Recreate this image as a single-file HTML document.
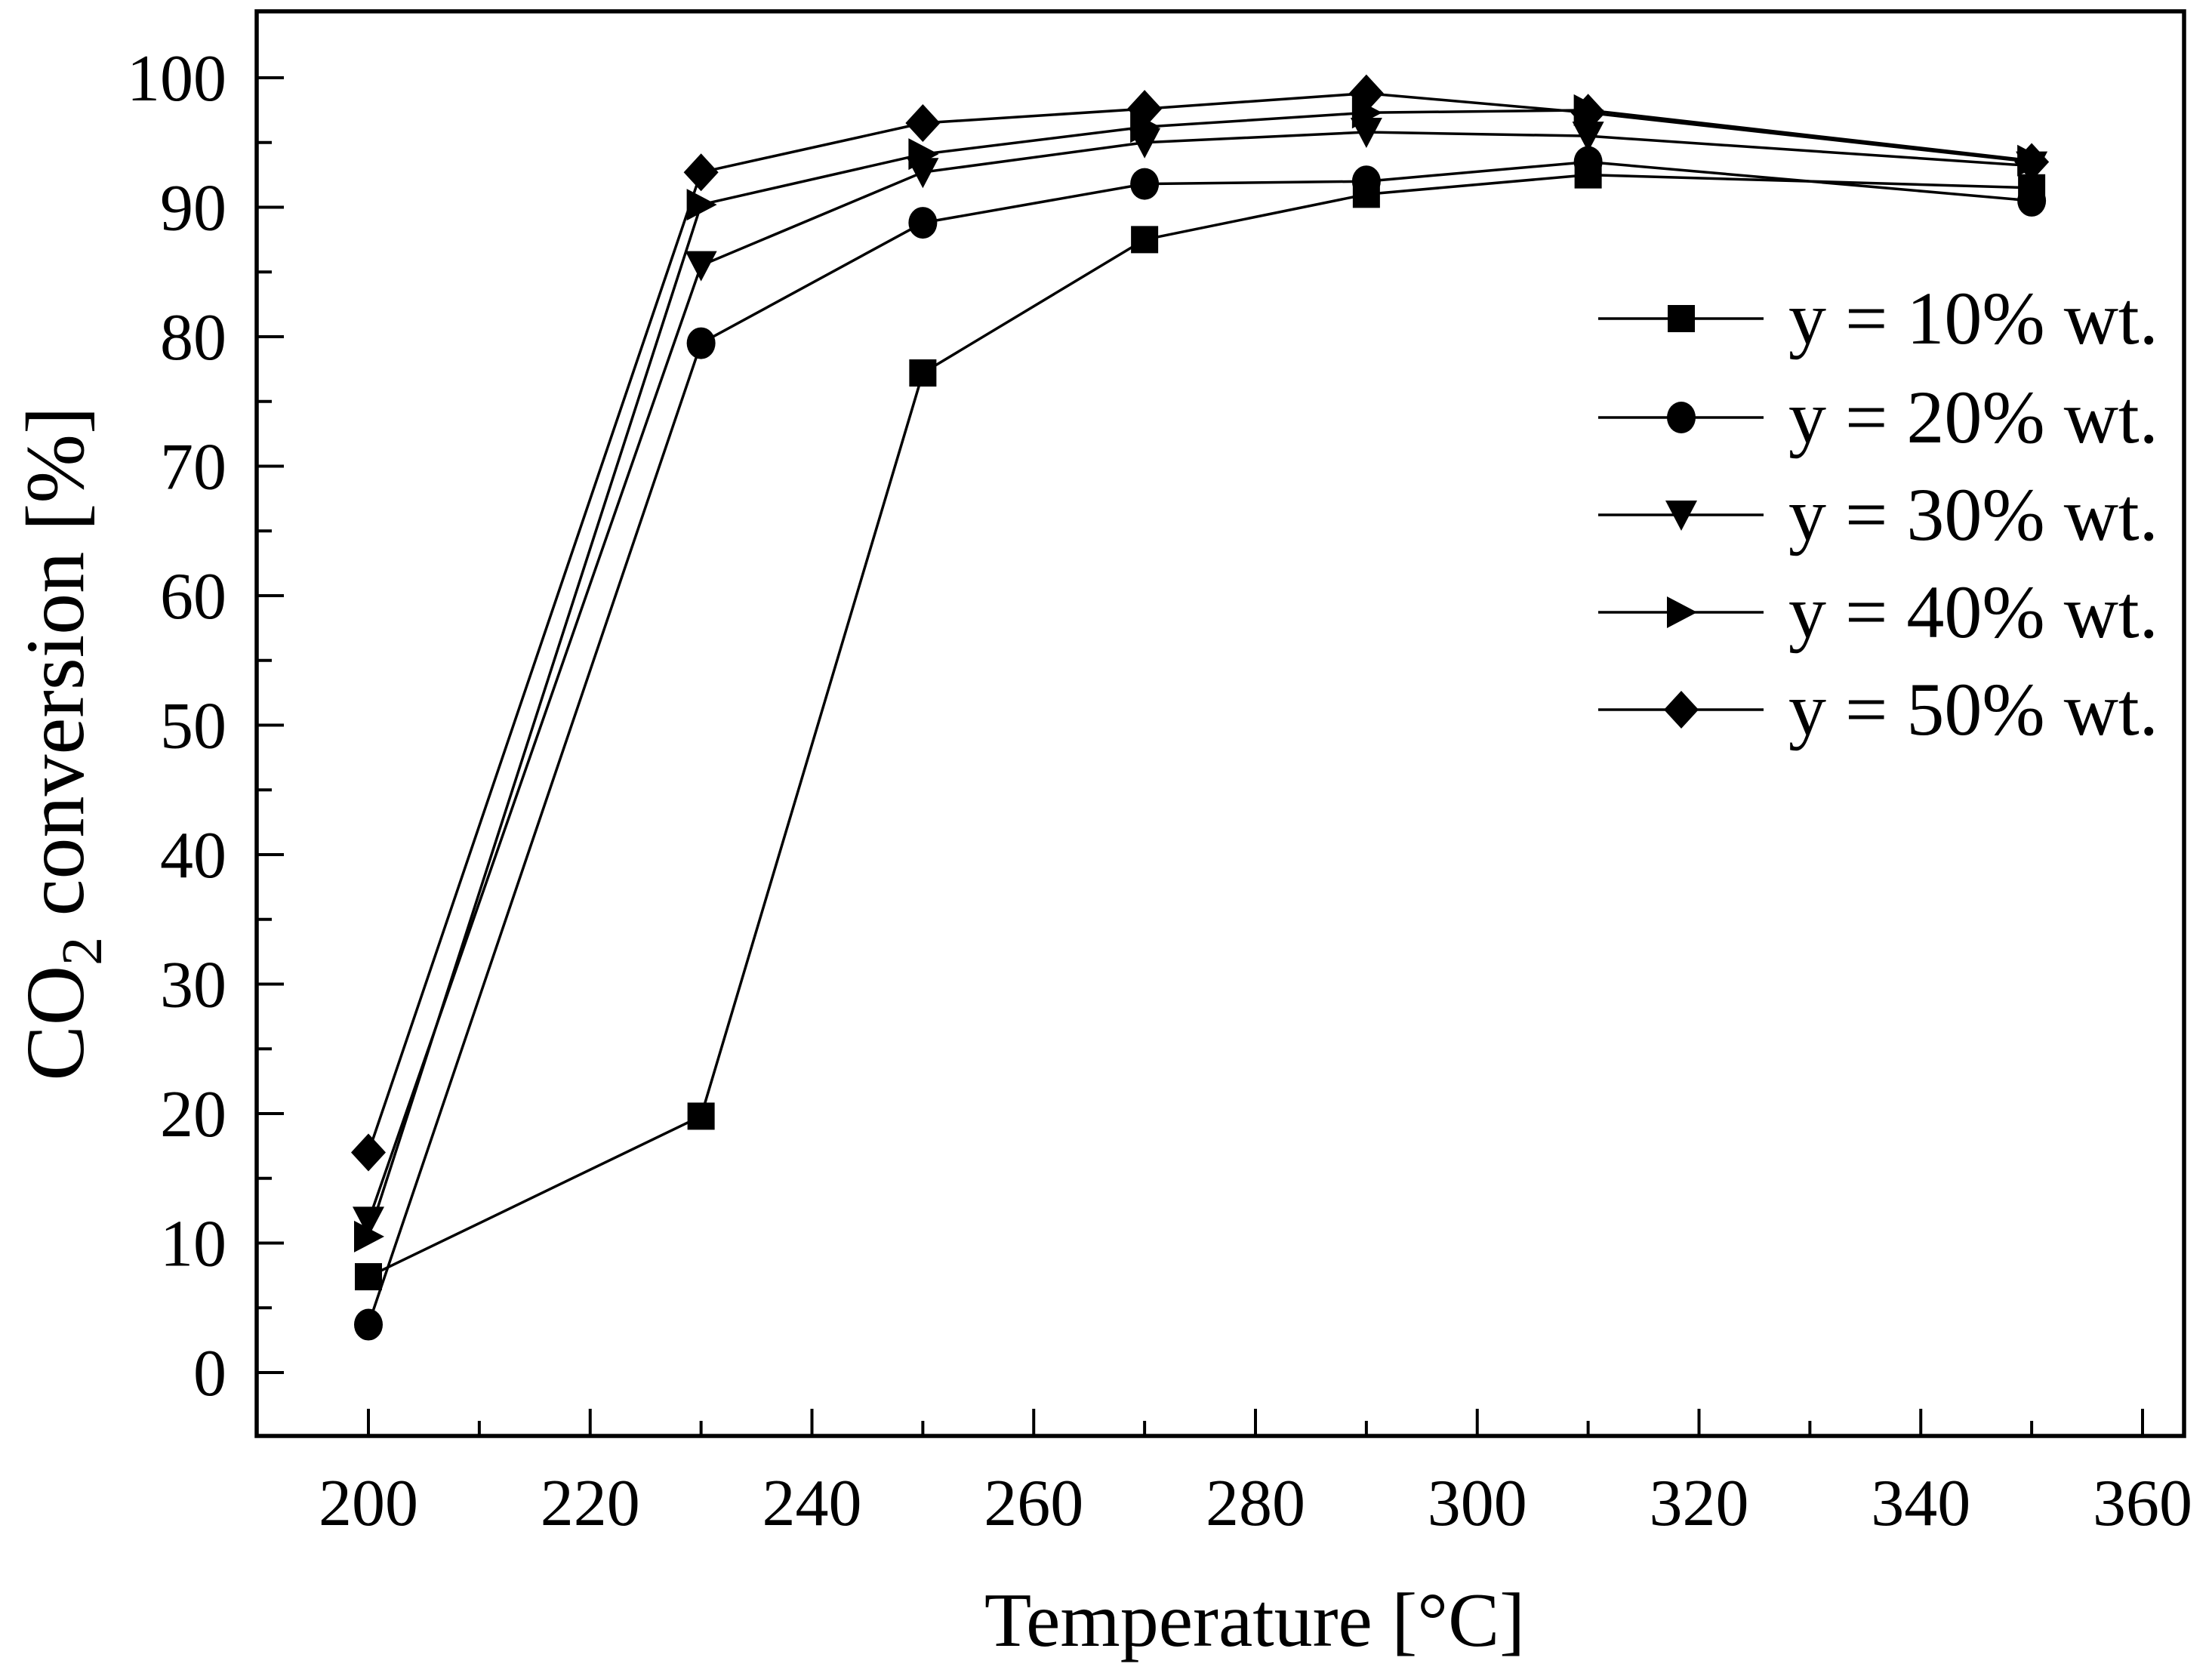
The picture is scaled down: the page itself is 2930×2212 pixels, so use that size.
<!DOCTYPE html>
<html><head><meta charset="utf-8"><style>
html,body{margin:0;padding:0;background:#fff}
svg{display:block}
text{font-family:"Liberation Serif",serif;fill:#000}
</style></head><body>
<svg id="chart" width="2930" height="2212" viewBox="0 0 2930 2212" xmlns="http://www.w3.org/2000/svg">
<rect x="0" y="0" width="2930" height="2212" fill="#fff"/>
<g id="plot"></g>
</svg>
<script>
const temps=[200,230,250,270,290,310,350];
const s10=[7.4,19.8,77.2,87.5,91,92.5,91.5];
const s20=[3.7,79.5,88.8,91.8,92,93.5,90.5];
const s30=[11.7,85.5,92.7,95,95.8,95.5,93.2];
const s40=[10.5,90.2,94.1,96.2,97.3,97.5,93.6];
const s50=[17,92.7,96.5,97.6,98.8,97.3,93.5];
const seriesLabels=["y = 10% wt.","y = 20% wt.","y = 30% wt.","y = 40% wt.","y = 50% wt."];
const markers=["square","circle","down","right","diamond"];
const xTicks=[200,220,240,260,280,300,320,340,360];
const yTicks=[0,10,20,30,40,50,60,70,80,90,100];

const NS="http://www.w3.org/2000/svg";
const g=document.getElementById('plot');
const L=340,R=2893,T=15,B=1902;
const xs=v=>488+(v-200)*(2838-488)/160;
const ys=v=>1818-v*(1818-103)/100;
function mk(tag,attrs,parent){const e=document.createElementNS(NS,tag);for(const k in attrs)e.setAttribute(k,attrs[k]);(parent||g).appendChild(e);return e;}

const all=[s10,s20,s30,s40,s50];
function marker(type,cx,cy,parent){
  const r=20;let e;
  if(type==="square") e=mk('rect',{x:cx-r*0.9,y:cy-r*0.9,width:r*1.8,height:r*1.8,fill:'#000'},parent);
  else if(type==="circle") e=mk('ellipse',{cx:cx,cy:cy,rx:r*0.95,ry:r*1.05,fill:'#000'},parent);
  else if(type==="down") e=mk('polygon',{points:`${cx-r*1.05},${cy-r*0.95} ${cx+r*1.05},${cy-r*0.95} ${cx},${cy+r*1.05}`,fill:'#000'},parent);
  else if(type==="right") e=mk('polygon',{points:`${cx-r*0.95},${cy-r*1.05} ${cx-r*0.95},${cy+r*1.05} ${cx+r*1.05},${cy}`,fill:'#000'},parent);
  else e=mk('polygon',{points:`${cx},${cy-r*1.25} ${cx+r*1.15},${cy} ${cx},${cy+r*1.25} ${cx-r*1.15},${cy}`,fill:'#000'},parent);
  return e;
}
all.forEach((ser,si)=>{
  const sg=mk('g',{});
  
  
  const pts=ser.map((v,i)=>xs(temps[i])+','+ys(v)).join(' ');
  const pl=mk('polyline',{points:pts,fill:'none',stroke:'#000','stroke-width':3.5},sg);
  
  
  ser.forEach((v,i)=>{
    const m=marker(markers[si],xs(temps[i]),ys(v),sg);
    
    
  });
});

const frame=mk('rect',{x:L,y:T,width:R-L,height:B-T,fill:'none',stroke:'#000','stroke-width':5.5});



for(let v=200;v<=360;v+=10){
  const major=v%20===0;
  const t=mk('line',{x1:xs(v),x2:xs(v),y1:B,y2:B-(major?36:20),stroke:'#000','stroke-width':4});
  
  
}
xTicks.forEach(v=>{
  const t=mk('text',{x:xs(v),y:2020,'font-size':88,'text-anchor':'middle'});
  t.textContent=v;
  
  
});
for(let v=0;v<=100;v+=5){
  const major=v%10===0;
  const t=mk('line',{x1:L,x2:L+(major?36:20),y1:ys(v),y2:ys(v),stroke:'#000','stroke-width':4});
  
  
}
yTicks.forEach(v=>{
  const t=mk('text',{x:300,y:ys(v)+30,'font-size':88,'text-anchor':'end'});
  t.textContent=v;
  
  
});

const xt=mk('text',{x:1662,y:2180,'font-size':102,'text-anchor':'middle'});
xt.textContent='Temperature [°C]';


const yt=mk('text',{x:0,y:0,'font-size':110,'text-anchor':'middle',transform:'translate(110,985) rotate(-90)'});
yt.innerHTML='CO<tspan font-size="76" dy="24">2</tspan><tspan dy="-24"> conversion [%]</tspan>';



const legendYs=[422,553,682,811,940];
seriesLabels.forEach((lab,i)=>{
  const lg=mk('g',{});
  
  
  const ly=legendYs[i];
  mk('line',{x1:2117,x2:2336,y1:ly,y2:ly,stroke:'#000','stroke-width':3.5},lg);
  marker(markers[i],2227,ly,lg);
  const t=mk('text',{x:2369,y:ly+33,'font-size':100},lg);
  t.textContent=lab;
});
</script>
</body></html>
